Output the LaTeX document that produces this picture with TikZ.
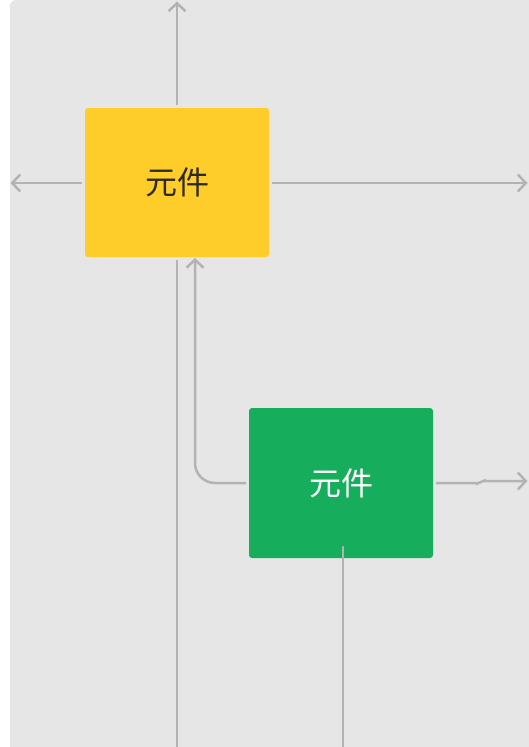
\documentclass[tikz,border=0pt]{standalone}
\usepackage{fontspec}
\newfontfamily\cjk{Noto Sans CJK SC}
\usetikzlibrary{arrows.meta}
\definecolor{bgc}{HTML}{E6E6E6}
\definecolor{linec}{HTML}{B3B3B3}
\definecolor{yel}{HTML}{FFCD2A}
\definecolor{grn}{HTML}{16AE5C}
\definecolor{darktext}{HTML}{2E2A1A}
\tikzset{
  elem/.style={rectangle, rounded corners=3pt, minimum width=184pt, minimum height=149pt, inner sep=0pt, font=\cjk\fontsize{32}{32}\selectfont},
  conn/.style={draw=linec, line width=2.5pt},
  arr/.style={conn, -{Straight Barb[length=8pt,width=17pt,line width=2.5pt]}}
}
\begin{document}
\begin{tikzpicture}[x=1pt,y=-1pt]
\useasboundingbox (0,0) rectangle (529,747);
\fill[bgc, rounded corners=6pt] (10,0) rectangle (545,760);
\node[elem, fill=yel, text=darktext] (y) at (177,182.5) {元件};
\node[elem, fill=grn, text=white, minimum height=150pt] (g) at (341,483) {元件};
\coordinate (ytop) at (177,105);
\coordinate (yleft) at (82,183);
\coordinate (yright) at (272,183);
\coordinate (ybot) at (177,260);
\coordinate (upend) at (177,1.5);
\coordinate (leftend) at (10.5,183);
\coordinate (rightend) at (527.5,183);
\coordinate (downend) at (177,750);
\coordinate (gleft) at (246,483);
\coordinate (gin) at (195,258);
\coordinate (gright) at (436,483);
\coordinate (gjog) at (480,483);
\coordinate (gjog2) at (482,481);
\coordinate (grend) at (527.5,481);
\coordinate (gbot) at (343,547);
\coordinate (gdown) at (343,750);
\draw[arr] (ytop) -- (upend);
\draw[arr] (yleft) -- (leftend);
\draw[arr] (yright) -- (rightend);
\draw[conn] (ybot) -- (downend);
\draw[arr, rounded corners=20pt] (gleft) -| (gin);
\draw[arr, rounded corners=1.5pt] (gright) -- (gjog) -- (gjog2) -- (grend);
\draw[conn, line cap=round] (gbot) -- (gdown);
\end{tikzpicture}
\end{document}
